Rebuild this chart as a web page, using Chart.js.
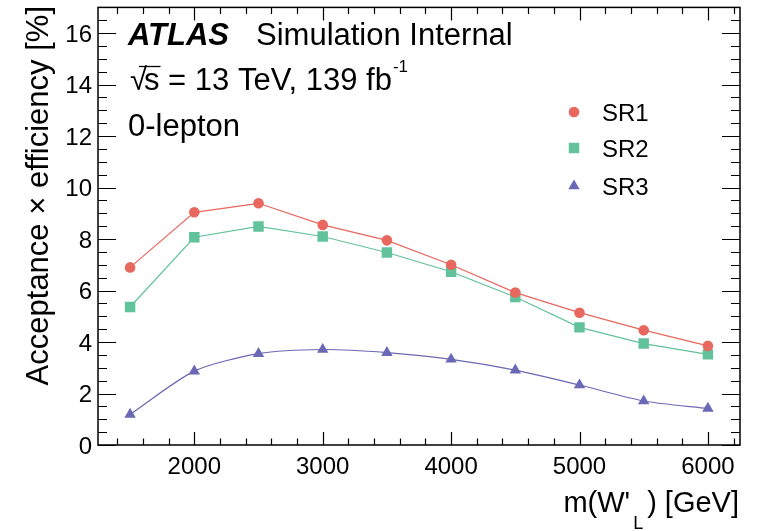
<!DOCTYPE html>
<html>
<head>
<meta charset="utf-8">
<script src="https://cdn.jsdelivr.net/npm/chart.js@4.4.0/dist/chart.umd.min.js"></script>
<style>
  html, body { margin: 0; padding: 0; background: #fff; }
  #wrap { width: 764px; height: 531px; }
</style>
</head>
<body>
<div id="wrap"><canvas id="c" width="764" height="531"></canvas></div>
<script>
// W' mass points [GeV]
const masses = [1500, 2000, 2500, 3000, 3500, 4000, 4500, 5000, 5500, 6000];
// acceptance x efficiency [%] per signal region
const sr1 = [6.90, 9.04, 9.39, 8.55, 7.95, 7.00, 5.92, 5.14, 4.46, 3.85];
const sr2 = [5.36, 8.07, 8.49, 8.10, 7.48, 6.73, 5.75, 4.57, 3.94, 3.52];
const sr3 = [1.19, 2.87, 3.55, 3.71, 3.59, 3.33, 2.91, 2.33, 1.71, 1.42];

const xTicks = [2000, 3000, 4000, 5000, 6000];
const yTicks = [0, 2, 4, 6, 8, 10, 12, 14, 16];

const FONT = '"Liberation Sans", Arial, Helvetica, sans-serif';
const RED = '#e8675e', GREEN = '#62c29b', BLUE = '#6b68b5';

const series = [
  { label: 'SR1', data: sr1, color: RED, style: 'circle', r: 5.3 },
  { label: 'SR2', data: sr2, color: GREEN, style: 'rect', r: 7.4 },
  { label: 'SR3', data: sr3, color: BLUE, style: 'triangle', r: 6.6 }
];

function pts(vals) {
  return masses.map((m, i) => ({ x: m, y: vals[i] }));
}

function marker(ctx, style, r, x, y, color) {
  ctx.save();
  ctx.fillStyle = color;
  ctx.strokeStyle = color;
  if (Chart.helpers && Chart.helpers.drawPoint) {
    Chart.helpers.drawPoint(ctx, { pointStyle: style, radius: r, rotation: 0, borderWidth: 0 }, x, y);
  } else {
    ctx.beginPath();
    ctx.arc(x, y, r, 0, Math.PI * 2);
    ctx.fill();
  }
  ctx.restore();
}

// ROOT-style frame: inward ticks on all four sides, labels and titles
const atlasFrame = {
  id: 'atlasFrame',
  afterDraw(chart) {
    const ctx = chart.ctx;
    const a = chart.chartArea;
    const xs = chart.scales.x, ys = chart.scales.y;
    ctx.save();
    ctx.strokeStyle = '#000';
    ctx.lineWidth = 1.5;
    ctx.strokeRect(a.left, a.top, a.right - a.left, a.bottom - a.top);

    ctx.lineWidth = 1.2;
    ctx.beginPath();
    // x minor every 200, major every 1000
    for (let v = 1400; v <= 6200; v += 200) {
      const px = Math.round(xs.getPixelForValue(v)) + 0.5;
      const len = v % 1000 === 0 ? 13 : 6.5;
      ctx.moveTo(px, a.bottom); ctx.lineTo(px, a.bottom - len);
      ctx.moveTo(px, a.top); ctx.lineTo(px, a.top + len);
    }
    // y minor every 0.5, major every 2
    for (let k = 0; k <= 34; k++) {
      const v = k * 0.5;
      const py = Math.round(ys.getPixelForValue(v)) + 0.5;
      const len = k % 4 === 0 ? 18 : 9;
      ctx.moveTo(a.left, py); ctx.lineTo(a.left + len, py);
      ctx.moveTo(a.right, py); ctx.lineTo(a.right - len, py);
    }
    ctx.stroke();

    ctx.fillStyle = '#000';
    ctx.font = '24px ' + FONT;
    ctx.textAlign = 'right';
    ctx.textBaseline = 'alphabetic';
    yTicks.forEach(v => ctx.fillText(String(v), a.left - 6, ys.getPixelForValue(v) + 8.5));
    ctx.textAlign = 'center';
    xTicks.forEach(v => ctx.fillText(String(v), xs.getPixelForValue(v), 474));

    // axis titles
    ctx.font = '31px ' + FONT;
    ctx.save();
    ctx.translate(48, 6);
    ctx.rotate(-Math.PI / 2);
    ctx.textAlign = 'right';
    ctx.fillText('Acceptance \u00d7 efficiency [%]', 0, 0);
    ctx.restore();

    ctx.textAlign = 'left';
    ctx.font = '29px ' + FONT;
    const tail = ') [GeV]';
    const head = "m(W'";
    let xr = 739 - ctx.measureText(tail).width;
    ctx.fillText(tail, xr, 512);
    ctx.font = '18px ' + FONT;
    const lw = ctx.measureText('L').width;
    ctx.fillText('L', xr - lw - 4, 529);
    ctx.font = '29px ' + FONT;
    ctx.fillText(head, xr - lw - 7 - ctx.measureText(head).width, 512);

    // ATLAS label block
    ctx.font = 'italic bold 31px ' + FONT;
    ctx.fillText('ATLAS', 128, 45);
    ctx.font = '31px ' + FONT;
    ctx.fillText('Simulation Internal', 256, 45);

    ctx.fillText('\u221a', 130, 90);
    const sx = 144;
    ctx.fillText('s', sx, 90);
    const sw = ctx.measureText('s').width;
    ctx.lineWidth = 1.3;
    ctx.beginPath();
    ctx.moveTo(139, 66.5); ctx.lineTo(sx + sw + 1, 66.5);
    ctx.stroke();
    const rest = ' = 13 TeV, 139 fb';
    ctx.fillText(rest, sx + sw, 90);
    const ex = sx + sw + ctx.measureText(rest).width;
    ctx.font = '17px ' + FONT;
    ctx.fillText('-1', ex + 1, 72);

    ctx.font = '31px ' + FONT;
    ctx.fillText('0-lepton', 128, 136);

    // legend
    const legY = [112, 148, 186];
    ctx.font = '24px ' + FONT;
    series.forEach((s, i) => {
      marker(ctx, s.style, s.r, 574, legY[i], s.color);
      ctx.fillStyle = '#000';
      ctx.fillText(s.label, 602, legY[i] + 8.5);
    });
    ctx.restore();
  }
};

new Chart(document.getElementById('c'), {
  type: 'line',
  data: {
    datasets: series.map((s, i) => ({
      label: s.label,
      data: pts(s.data),
      borderColor: s.color,
      backgroundColor: s.color,
      borderWidth: 1.2,
      pointStyle: s.style,
      pointRadius: s.r,
      pointBorderWidth: 0,
      pointBackgroundColor: s.color,
      tension: i === 2 ? 0.25 : 0,
      fill: false
    }))
  },
  options: {
    responsive: false,
    animation: false,
    devicePixelRatio: 1,
    layout: { padding: { left: 98, right: 24, top: 7, bottom: 86 } },
    plugins: { legend: { display: false }, tooltip: { enabled: false } },
    scales: {
      x: { type: 'linear', min: 1250, max: 6250, display: false },
      y: { min: 0, max: 17, display: false }
    }
  },
  plugins: [atlasFrame]
});
</script>
</body>
</html>
